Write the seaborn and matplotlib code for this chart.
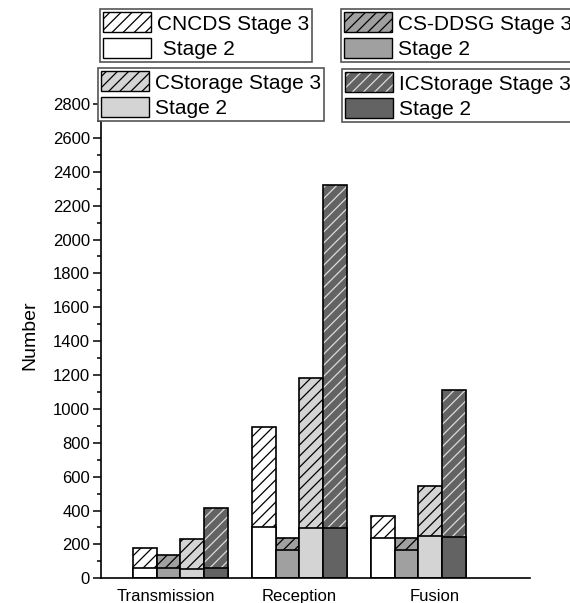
import matplotlib
matplotlib.use("Agg")
import matplotlib.pyplot as plt
import seaborn as sns
import pandas as pd
from matplotlib.patches import Patch
from matplotlib.ticker import MultipleLocator
from matplotlib.colors import to_rgba

# ---- data ----
categories = ["Transmission", "Reception", "Fusion"]
methods = ["CNCDS", "CS-DDSG", "CStorage", "ICStorage"]
cncds_stage2 = [63, 304, 235]
cncds_stage3 = [118, 592, 133]
csddsg_stage2 = [59, 170, 168]
csddsg_stage3 = [77, 65, 67]
cstorage_stage2 = [55, 298, 251]
cstorage_stage3 = [176, 882, 291]
icstorage_stage2 = [59, 298, 243]
icstorage_stage3 = [356, 2022, 868]
yticks = list(range(0, 2801, 200))

# ---- styling ----
face_colors = ["#ffffff", "#a0a0a0", "#d4d4d4", "#636363"]
hatch_colors = ["#000000", "#000000", "#000000", "#dcdcdc"]
legend_stage2_labels = [" Stage 2", "Stage 2", "Stage 2", "Stage 2"]

sns.set_style("ticks")
plt.rcParams["font.family"] = ["Liberation Sans", "DejaVu Sans"]
plt.rcParams["hatch.linewidth"] = 0.9
for k in ["text.color", "axes.labelcolor", "xtick.color", "ytick.color"]:
    plt.rcParams[k] = "black"

stage2_all = [cncds_stage2, csddsg_stage2, cstorage_stage2, icstorage_stage2]
stage3_all = [cncds_stage3, csddsg_stage3, cstorage_stage3, icstorage_stage3]
rows = []
for m, s2, s3 in zip(methods, stage2_all, stage3_all):
    for c, a, b in zip(categories, s2, s3):
        rows.append({"category": c, "method": m, "stage2": a, "total": a + b})
df = pd.DataFrame(rows)


def set_hatch_color(p, col):
    if hasattr(p, "set_hatchcolor"):
        p.set_hatchcolor(col)
    else:
        p._hatch_color = to_rgba(col)


fig = plt.figure(figsize=(5.7, 6.03), dpi=100)
ax = fig.add_axes([101 / 570, 1 - 578.3 / 603, (530 - 101) / 570, (578.3 - 93) / 603])

pal = dict(zip(methods, face_colors))
sns.barplot(data=df, x="category", y="total", hue="method", order=categories,
            hue_order=methods, palette=pal, width=0.8, dodge=True,
            edgecolor="black", linewidth=1.2, errorbar=None, legend=False,
            saturation=1, ax=ax)
for i, cont in enumerate(ax.containers[:4]):
    for p in cont:
        p.set_hatch("///")
        p.set_edgecolor("black")
        set_hatch_color(p, hatch_colors[i])

sns.barplot(data=df, x="category", y="stage2", hue="method", order=categories,
            hue_order=methods, palette=pal, width=0.8, dodge=True,
            edgecolor="black", linewidth=1.2, errorbar=None, legend=False,
            saturation=1, ax=ax)

ax.set_xlim(-0.668, 2.937)
ax.set_ylim(0, 2865)
ax.set_yticks(yticks)
ax.yaxis.set_minor_locator(MultipleLocator(100))
ax.set_xticks([-0.126, 1.0, 2.134])
ax.set_xticklabels(categories)
ax.tick_params(axis="x", length=0, pad=8, labelsize=12)
ax.tick_params(axis="y", which="major", length=6, width=1.1, labelsize=12, pad=2)
ax.tick_params(axis="y", which="minor", length=3, width=1.1)
ax.set_xlabel("")
ax.set_ylabel("Number", fontsize=14, labelpad=10)
sns.despine(ax=ax)
for s in ["left", "bottom"]:
    ax.spines[s].set_linewidth(1.2)
    ax.spines[s].set_color("black")

# ---- legends ----
legend_pos = [(100, 9.3), (341, 9.3), (98.3, 68.3), (342.3, 69.3)]
for i in range(4):
    h3 = Patch(facecolor=face_colors[i], edgecolor="black", hatch="///", linewidth=1.0)
    set_hatch_color(h3, hatch_colors[i])
    h2 = Patch(facecolor=face_colors[i], edgecolor="black", linewidth=1.0)
    x, y = legend_pos[i]
    leg = fig.legend([h3, h2], [f"{methods[i]} Stage 3", legend_stage2_labels[i]],
                     loc="upper left", bbox_to_anchor=(x / 570, 1 - y / 603),
                     bbox_transform=fig.transFigure, borderaxespad=0,
                     fontsize=15, handlelength=2.3, handleheight=1.1,
                     labelspacing=0.2, borderpad=0.15, handletextpad=0.27,
                     frameon=True, fancybox=False, framealpha=1)
    leg.get_frame().set_edgecolor("#555555")
    leg.get_frame().set_linewidth(1.2)
    for p in leg.get_patches():
        if p.get_hatch():
            set_hatch_color(p, hatch_colors[i])

fig.savefig("out.png", dpi=100)
